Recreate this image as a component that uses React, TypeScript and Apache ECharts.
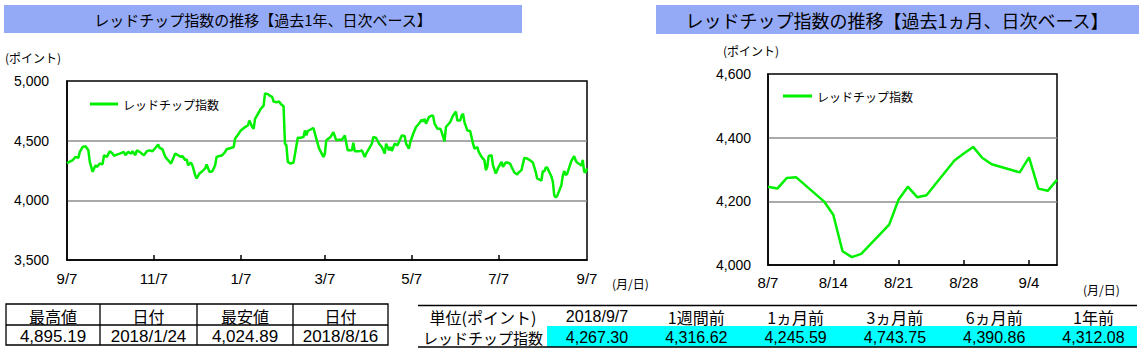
import React, { useEffect, useRef } from 'react';
import * as echarts from 'echarts';

// ---- data ----
const yearDates = [
  '2017-09-07','2017-09-11','2017-09-13','2017-09-15','2017-09-16','2017-09-18','2017-09-20','2017-09-22','2017-09-23','2017-09-25',
  '2017-09-27','2017-09-28','2017-09-30','2017-10-02','2017-10-03','2017-10-05','2017-10-07','2017-10-09','2017-10-10','2017-10-12',
  '2017-10-14','2017-10-17','2017-10-18','2017-10-20','2017-10-22','2017-10-23','2017-10-25','2017-10-26','2017-10-28','2017-10-30',
  '2017-10-31','2017-11-02','2017-11-04','2017-11-06','2017-11-08','2017-11-10','2017-11-11','2017-11-13','2017-11-15','2017-11-17',
  '2017-11-19','2017-11-22','2017-11-24','2017-11-26','2017-11-27','2017-11-29','2017-11-30','2017-12-01','2017-12-03','2017-12-04',
  '2017-12-06','2017-12-07','2017-12-09','2017-12-11','2017-12-13','2017-12-14','2017-12-16','2017-12-17','2017-12-18','2017-12-20',
  '2017-12-21','2017-12-23','2017-12-25','2017-12-27','2017-12-28','2017-12-31','2018-01-02','2018-01-03','2018-01-05','2018-01-07',
  '2018-01-10','2018-01-12','2018-01-13','2018-01-15','2018-01-16','2018-01-17','2018-01-19','2018-01-21','2018-01-23','2018-01-24',
  '2018-01-26','2018-01-27','2018-01-29','2018-01-30','2018-02-01','2018-02-03','2018-02-04','2018-02-06','2018-02-07','2018-02-08',
  '2018-02-09','2018-02-11','2018-02-13','2018-02-16','2018-02-18','2018-02-20','2018-02-21','2018-02-22','2018-02-23','2018-02-26',
  '2018-02-27','2018-03-01','2018-03-03','2018-03-06','2018-03-07','2018-03-08','2018-03-11','2018-03-13','2018-03-15','2018-03-17',
  '2018-03-19','2018-03-21','2018-03-23','2018-03-25','2018-03-26','2018-03-27','2018-03-28','2018-03-30','2018-04-01','2018-04-02',
  '2018-04-04','2018-04-05','2018-04-07','2018-04-09','2018-04-10','2018-04-12','2018-04-14','2018-04-16','2018-04-18','2018-04-19',
  '2018-04-21','2018-04-22','2018-04-23','2018-04-25','2018-04-27','2018-04-29','2018-04-30','2018-05-02','2018-05-03','2018-05-05',
  '2018-05-06','2018-05-08','2018-05-10','2018-05-12','2018-05-14','2018-05-15','2018-05-16','2018-05-17','2018-05-19','2018-05-21',
  '2018-05-22','2018-05-23','2018-05-25','2018-05-27','2018-05-28','2018-05-30','2018-05-31','2018-06-03','2018-06-05','2018-06-07',
  '2018-06-08','2018-06-10','2018-06-11','2018-06-12','2018-06-13','2018-06-15','2018-06-17','2018-06-19','2018-06-20','2018-06-22',
  '2018-06-23','2018-06-25','2018-06-27','2018-06-28','2018-06-29','2018-06-30','2018-07-02','2018-07-03','2018-07-05','2018-07-07',
  '2018-07-09','2018-07-10','2018-07-12','2018-07-13','2018-07-15','2018-07-16','2018-07-18','2018-07-20','2018-07-21','2018-07-23',
  '2018-07-25','2018-07-27','2018-07-29','2018-07-31','2018-08-02','2018-08-03','2018-08-06','2018-08-07','2018-08-08','2018-08-09',
  '2018-08-10','2018-08-13','2018-08-14','2018-08-15','2018-08-16','2018-08-17','2018-08-20','2018-08-21','2018-08-22','2018-08-23',
  '2018-08-24','2018-08-27','2018-08-28','2018-08-29','2018-08-30','2018-08-31','2018-09-03','2018-09-04','2018-09-05','2018-09-06',
  '2018-09-07',
];
const yearValues = [
  4312.08,4336,4364,4356,4406,4447,4453,4419,4322,4239,
  4294,4281,4308,4303,4378,4364,4411,4392,4372,4383,
  4392,4406,4378,4406,4392,4411,4378,4419,4406,4386,
  4378,4411,4419,4411,4439,4467,4439,4428,4364,4336,
  4308,4392,4378,4364,4372,4336,4344,4294,4317,4294,
  4211,4183,4225,4244,4267,4300,4239,4239,4244,4294,
  4364,4372,4378,4406,4428,4439,4447,4517,4550,4586,
  4614,4628,4669,4614,4600,4683,4725,4767,4794,4895.19,
  4890,4880,4867,4828,4822,4828,4808,4789,4475,4461,
  4322,4308,4317,4525,4525,4531,4586,4544,4581,4600,
  4606,4517,4433,4364,4390.86,4503,4531,4572,4503,4508,
  4508,4544,4419,4419,4419,4483,4411,4411,4414,4419,
  4364,4392,4433,4475,4531,4522,4475,4447,4392,4475,
  4419,4447,4414,4475,4461,4517,4544,4539,4475,4433,
  4489,4558,4614,4642,4675,4661,4683,4642,4697,4711,
  4706,4642,4600,4600,4572,4494,4614,4656,4711,4743.75,
  4669,4669,4711,4725,4656,4586,4581,4475,4433,4447,
  4406,4364,4336,4253,4281,4372,4378,4294,4225,4281,
  4322,4281,4317,4317,4308,4281,4233,4217,4233,4253,
  4356,4350,4336,4317,4239,4183,4166,4245.59,4240,4273,
  4276,4200,4158,4043,4024.89,4035,4127,4205,4246,4213,
  4219,4328,4350,4371,4336,4316.62,4291,4338,4240,4233,
  4267.30,
];
const seriesName = 'レッドチップ指数';
const yearRange = ['2017-09-07', '2018-09-07'];
const monthRange = ['2018-08-07', '2018-09-07'];
const yearTicks = ['2017-09-07', '2017-11-07', '2018-01-07', '2018-03-07', '2018-05-07', '2018-07-07', '2018-09-07'];
const monthTicks = ['2018-08-07', '2018-08-14', '2018-08-21', '2018-08-28', '2018-09-04'];
const yearAxis = { min: 3500, max: 5000, interval: 500 };
const monthAxis = { min: 4000, max: 4600, interval: 200 };

const titleYear = 'レッドチップ指数の推移【過去1年、日次ベース】';
const titleMonth = 'レッドチップ指数の推移【過去1ヵ月、日次ベース】';
const unitLabel = '(ポイント)';
const dateLabel = '(月/日)';

const statHeaders = ['最高値', '日付', '最安値', '日付'];
const statValues = ['4,895.19', '2018/1/24', '4,024.89', '2018/8/16'];
const compHeaders = ['単位(ポイント)', '2018/9/7', '1週間前', '1ヵ月前', '3ヵ月前', '6ヵ月前', '1年前'];
const compRow = ['レッドチップ指数', '4,267.30', '4,316.62', '4,245.59', '4,743.75', '4,390.86', '4,312.08'];

// ---- helpers ----
const ts = (s: string) => {
  const [y, m, d] = s.split('-').map(Number);
  return new Date(y, m - 1, d).getTime();
};
const md = (v: number) => {
  const d = new Date(v);
  return `${d.getMonth() + 1}/${d.getDate()}`;
};
const fmtNum = (v: number) => v.toLocaleString('en-US');

const CJK = '"Noto Sans CJK JP", sans-serif';
const LAT = '"Liberation Sans", Arial, sans-serif';
const GREEN = '#00F000';
const BANNER = '#95AAF7';

export default function App() {
  const ref = useRef<HTMLDivElement>(null);
  useEffect(() => {
    if (!ref.current) return;
    const chart = echarts.init(ref.current, undefined, { renderer: 'svg' });

    const yearData = yearDates.map((d, i) => [ts(d), yearValues[i]]);
    const monthStart = ts(monthRange[0]);
    const monthData = yearData.filter((p) => p[0] >= monthStart);

    const xAxisBase = (range: string[], ticks: string[], labelMargin: number, fontSize: number) => {
      const lo = ts(range[0]);
      const hi = ts(range[1]);
      return {
        type: 'value',
        min: lo,
        max: hi,
        axisLine: { show: true, lineStyle: { color: '#000', width: 1.5 } },
        axisTick: {
          show: true,
          inside: true,
          length: 5,
          customValues: ticks.map(ts).filter((t) => t > lo && t < hi),
          lineStyle: { color: '#000', width: 1.5 },
        },
        axisLabel: {
          customValues: ticks.map(ts),
          formatter: (v: number) => md(v),
          color: '#000',
          fontSize,
          fontFamily: LAT,
          margin: labelMargin,
        },
        splitLine: { show: false },
      };
    };

    const yAxisBase = (ax: { min: number; max: number; interval: number }, margin: number) => ({
      type: 'value',
      min: ax.min,
      max: ax.max,
      interval: ax.interval,
      axisLine: { show: true, lineStyle: { color: '#000', width: 1.5 } },
      axisTick: { show: false },
      axisLabel: { formatter: (v: number) => fmtNum(v), color: '#000', fontSize: 14, fontFamily: LAT, margin },
      splitLine: { show: true, showMinLine: false, showMaxLine: false, lineStyle: { color: '#8c8c8c', width: 1.5 } },
    });

    const graphic: any[] = [];
    graphic.push({ type: 'rect', shape: { x: 4, y: 5, width: 518, height: 28 }, style: { fill: BANNER } });
    graphic.push({ type: 'text', style: { text: titleYear, x: 263, y: 19, align: 'center', verticalAlign: 'middle', fontSize: 15, fontFamily: CJK, fill: '#000' } });
    graphic.push({ type: 'rect', shape: { x: 656, y: 5, width: 483, height: 29 }, style: { fill: BANNER } });
    graphic.push({ type: 'text', style: { text: titleMonth, x: 897, y: 20, align: 'center', verticalAlign: 'middle', fontSize: 18, fontFamily: CJK, fill: '#000' } });
    graphic.push({ type: 'text', style: { text: unitLabel, x: 5, y: 57, verticalAlign: 'middle', fontSize: 12, fontFamily: CJK, fill: '#000' } });
    graphic.push({ type: 'text', style: { text: unitLabel, x: 723, y: 50, verticalAlign: 'middle', fontSize: 12, fontFamily: CJK, fill: '#000' } });
    graphic.push({ type: 'text', style: { text: dateLabel, x: 612, y: 283, verticalAlign: 'middle', fontSize: 12, fontFamily: CJK, fill: '#000' } });
    graphic.push({ type: 'text', style: { text: dateLabel, x: 1083, y: 289, verticalAlign: 'middle', fontSize: 12, fontFamily: CJK, fill: '#000' } });

    const colEdges = [6, 100, 197, 293, 388];
    const tTop = 304, tMid = 325, tBot = 345;
    graphic.push({ type: 'rect', shape: { x: colEdges[0], y: tTop, width: colEdges[4] - colEdges[0], height: tBot - tTop }, style: { fill: 'none', stroke: '#000', lineWidth: 1.3 } });
    graphic.push({ type: 'line', shape: { x1: colEdges[0], y1: tMid, x2: colEdges[4], y2: tMid }, style: { stroke: '#000', lineWidth: 1.3 } });
    for (let i = 1; i < 4; i++) {
      graphic.push({ type: 'line', shape: { x1: colEdges[i], y1: tTop, x2: colEdges[i], y2: tBot }, style: { stroke: '#000', lineWidth: 1.3 } });
    }
    statHeaders.forEach((h, i) => {
      const cx = (colEdges[i] + colEdges[i + 1]) / 2;
      graphic.push({ type: 'text', style: { text: h, x: cx, y: (tTop + tMid) / 2 + 1, align: 'center', verticalAlign: 'middle', fontSize: 16, fontFamily: CJK, fill: '#000' } });
      graphic.push({ type: 'text', style: { text: statValues[i], x: cx, y: (tMid + tBot) / 2 + 1, align: 'center', verticalAlign: 'middle', fontSize: 17, fontFamily: LAT, fill: '#000' } });
    });

    const rLeft = 418, rRight = 1137, rTop = 305.5, rMid = 326, rBot = 347;
    graphic.push({ type: 'rect', shape: { x: 547, y: rMid, width: rRight - 547, height: rBot - rMid }, style: { fill: '#00FFFF' } });
    graphic.push({ type: 'line', shape: { x1: rLeft, y1: rTop, x2: rRight, y2: rTop }, style: { stroke: '#000', lineWidth: 1.3 } });
    graphic.push({ type: 'line', shape: { x1: rLeft, y1: rBot, x2: rRight, y2: rBot }, style: { stroke: '#000', lineWidth: 1.3 } });
    compHeaders.forEach((h, i) => {
      const cx = i === 0 ? 483 : 597 + (i - 1) * 99.3;
      const isNum = /^[0-9/]+$/.test(h);
      graphic.push({ type: 'text', style: { text: h, x: cx, y: (rTop + rMid) / 2 + 1, align: 'center', verticalAlign: 'middle', fontSize: 16, fontFamily: isNum ? LAT : CJK, fill: '#000' } });
      graphic.push({ type: 'text', style: { text: compRow[i], x: cx, y: (rMid + rBot) / 2 + 1, align: 'center', verticalAlign: 'middle', fontSize: i === 0 ? 15 : 16, fontFamily: i === 0 ? CJK : LAT, fill: '#000' } });
    });

    const option: any = {
      animation: false,
      backgroundColor: '#fff',
      textStyle: { fontFamily: LAT },
      grid: [
        { left: 67, top: 81, width: 520, height: 179, show: true, borderColor: '#000', borderWidth: 1.5, containLabel: false },
        { left: 768, top: 74, width: 289, height: 191, show: true, borderColor: '#000', borderWidth: 1.5, containLabel: false },
      ],
      xAxis: [
        { gridIndex: 0, ...xAxisBase(yearRange, yearTicks, 11, 15) },
        { gridIndex: 1, ...xAxisBase(monthRange, monthTicks, 10, 15) },
      ],
      yAxis: [
        { gridIndex: 0, ...yAxisBase(yearAxis, 18) },
        { gridIndex: 1, ...yAxisBase(monthAxis, 17) },
      ],
      legend: [
        {
          left: 90, top: 98, padding: 0, icon: 'rect', itemWidth: 28, itemHeight: 3, selectedMode: false,
          data: [seriesName], textStyle: { fontSize: 12, fontFamily: CJK, color: '#000' },
        },
        {
          left: 783, top: 90, padding: 0, icon: 'rect', itemWidth: 29, itemHeight: 3, selectedMode: false,
          data: [seriesName], textStyle: { fontSize: 12, fontFamily: CJK, color: '#000' },
        },
      ],
      series: [
        {
          type: 'line', name: seriesName, xAxisIndex: 0, yAxisIndex: 0, data: yearData,
          symbol: 'none', showSymbol: false, lineStyle: { color: GREEN, width: 2.5 }, itemStyle: { color: GREEN },
        },
        {
          type: 'line', name: seriesName, xAxisIndex: 1, yAxisIndex: 1, data: monthData,
          symbol: 'none', showSymbol: false, lineStyle: { color: GREEN, width: 2.5 }, itemStyle: { color: GREEN },
        },
      ],
      graphic,
    };
    chart.setOption(option);
    return () => chart.dispose();
  }, []);

  return <div ref={ref} style={{ position: 'absolute', left: 0, top: 0, width: 1145, height: 354 }} />;
}
